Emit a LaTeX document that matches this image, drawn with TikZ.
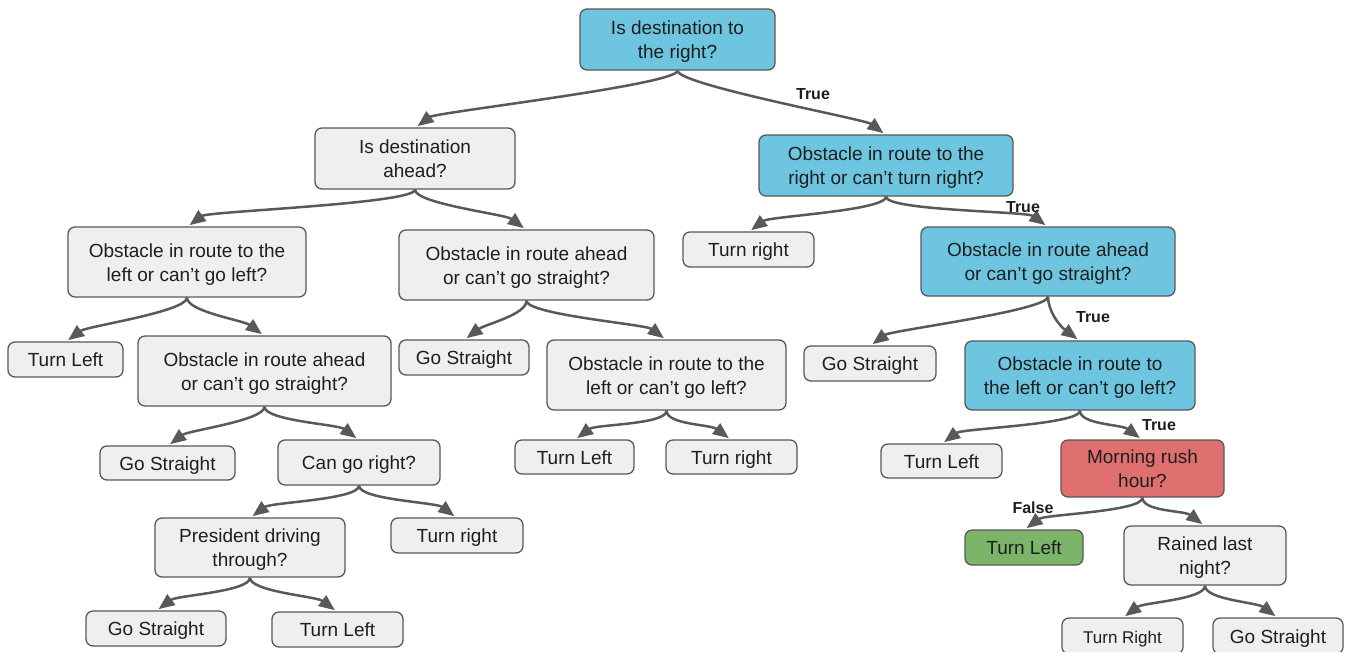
\documentclass[tikz,border=0pt]{standalone}
\usepackage{fontspec}
\setmainfont{Liberation Sans}
\usetikzlibrary{arrows.meta}

\definecolor{boxgray}{RGB}{239,239,239}
\definecolor{linegray}{RGB}{89,89,89}
\definecolor{qblue}{RGB}{109,197,224}
\definecolor{qred}{RGB}{224,111,111}
\definecolor{qgreen}{RGB}{124,180,106}
\definecolor{txt}{RGB}{30,30,30}

% curved connector from a parent's bottom to a child on its left / right
\newcommand\toleft[2]{\draw[edge] (#1.south) .. controls +(0,14) and +(20,-15) .. ([xshift=1pt]#2.north);}
\newcommand\toright[2]{\draw[edge] (#1.south) .. controls +(0,14) and +(-20,-15) .. ([xshift=-1pt]#2.north);}

\begin{document}
\begin{tikzpicture}[x=1pt,y=-1pt,
  box/.style={draw=linegray, line width=1.3pt, rounded corners=7pt, fill=boxgray,
    align=center, text=txt, inner sep=0pt, font=\fontsize{19}{24}\selectfont,
    execute at begin node={\rule{0pt}{19pt}},
    execute at end node={\rule[-5pt]{0pt}{5pt}}},
  two/.style={execute at begin node={\rule{0pt}{43pt}}},
  sz/.style 2 args={minimum width=#1pt, minimum height=#2pt},
  blue/.style={box, fill=qblue},
  red/.style={box, fill=qred},
  green/.style={box, fill=qgreen},
  edge/.style={draw=linegray, line width=2.5pt, shorten >=2pt,
    -{Triangle[length=16pt,width=13pt]}},
  lbl/.style={font=\fontsize{16}{18}\selectfont\bfseries, text=txt, inner sep=0pt}]

\clip (0,0) rectangle (1348,651);
\fill[white] (0,0) rectangle (1348,651);

% decision and outcome boxes
\node[blue, two, sz={195}{61}] (root) at (677.5,39.5) {Is destination to\\the right?};
\node[box, two, sz={200}{61}] (ahead) at (415,158.5) {Is destination\\ahead?};
\node[blue, two, sz={254}{61}] (b1) at (886,165.5) {Obstacle in route to the\\right or can’t turn right?};
\node[box, two, sz={238}{70}] (l1) at (187,262) {Obstacle in route to the\\left or can’t go left?};
\node[box, two, sz={255}{70}] (m1) at (526.5,265) {Obstacle in route ahead\\or can’t go straight?};
\node[box, sz={131}{35}] (tr1) at (748.5,249.5) {Turn right};
\node[blue, two, sz={254}{69}] (b2) at (1048,261.5) {Obstacle in route ahead\\or can’t go straight?};
\node[box, sz={115}{35}] (tl1) at (65.5,359.5) {Turn Left};
\node[box, two, sz={253}{70}] (l2) at (264.5,371) {Obstacle in route ahead\\or can’t go straight?};
\node[box, sz={130}{35}] (gs1) at (464,357.5) {Go Straight};
\node[box, two, sz={239}{70}] (m2) at (666.5,375) {Obstacle in route to the\\left or can’t go left?};
\node[box, sz={132}{35}] (gs2) at (870,363.5) {Go Straight};
\node[blue, two, sz={230}{69}] (b3) at (1080,375.5) {Obstacle in route to\\the left or can’t go left?};
\node[box, sz={135}{34}] (gs3) at (167.5,463) {Go Straight};
\node[box, sz={162}{45}] (cgr) at (359,462.5) {Can go right?};
\node[box, sz={119}{34}] (tlm) at (574.5,457) {Turn Left};
\node[box, sz={131}{34}] (trm) at (731.5,457) {Turn right};
\node[box, sz={121}{34}] (tlr) at (941.5,461) {Turn Left};
\node[red, two, sz={163}{57}] (rush) at (1142.5,468.5) {Morning rush\\hour?};
\node[box, two, sz={190}{59}] (pres) at (250,547.5) {President driving\\through?};
\node[box, sz={132}{35}] (tr4) at (457,535.5) {Turn right};
\node[green, sz={118}{35}] (tlg) at (1024,547.5) {Turn Left};
\node[box, two, sz={162}{59}] (rain) at (1205,555.5) {Rained last\\night?};
\node[box, sz={140}{35}] (gs5) at (156,628.5) {Go Straight};
\node[box, sz={131}{35}] (tl5) at (337.5,629.5) {Turn Left};
\node[box, sz={121}{36}, font=\fontsize{17}{20}\selectfont] (trR) at (1122.5,636) {Turn Right};
\node[box, sz={130}{36}] (gsR) at (1278,636) {Go Straight};

% connectors
\toleft{root}{ahead}  \toright{root}{b1}
\toleft{ahead}{l1}    \toright{ahead}{m1}
\toleft{b1}{tr1}      \toright{b1}{b2}
\toleft{l1}{tl1}      \toright{l1}{l2}
\toleft{m1}{gs1}      \toright{m1}{m2}
\toleft{b2}{gs2}      \toright{b2}{b3}
\toleft{l2}{gs3}      \toright{l2}{cgr}
\toleft{m2}{tlm}      \toright{m2}{trm}
\toleft{b3}{tlr}      \toright{b3}{rush}
\toleft{cgr}{pres}    \toright{cgr}{tr4}
\toleft{rush}{tlg}    \toright{rush}{rain}
\toleft{pres}{gs5}    \toright{pres}{tl5}
\toleft{rain}{trR}    \toright{rain}{gsR}

% branch labels
\node[lbl] (t1) at (813,94) {True};
\node[lbl] (t2) at (1023,207) {True};
\node[lbl] (t3) at (1093,317) {True};
\node[lbl] (t4) at (1159,425) {True};
\node[lbl] (f1) at (1033,508) {False};
\end{tikzpicture}
\end{document}
